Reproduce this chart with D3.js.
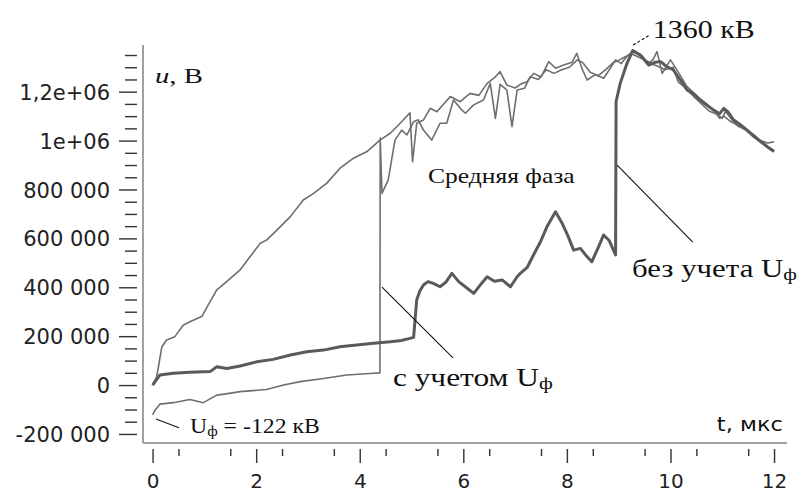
<!DOCTYPE html>
<html><head><meta charset="utf-8">
<script src="https://cdn.jsdelivr.net/npm/d3@7"></script>
<style>body{margin:0;background:#fff} svg{display:block}</style>
</head><body>
<svg id="chart" width="798" height="494"></svg>
<script>
// ---- data (t in µs, u in kV) ----
const xTickValues = [0, 2, 4, 6, 8, 10, 12];
const xTickLabels = ["0", "2", "4", "6", "8", "10", "12"];
const yTickValues = [-200000, 0, 200000, 400000, 600000, 800000, 1000000, 1200000];
const yTickLabels = ["-200 000", "0", "200 000", "400 000", "600 000", "800 000", "1e+06", "1,2e+06"];

// upper thin curve
const seriesUpper = [[0,0],[0.08,35],[0.18,157],[0.27,184],[0.43,198],[0.59,245],[0.72,259],[0.95,280],[1.11,341],[1.24,389],[1.43,423],[1.69,471],[1.88,525],[2.08,580],[2.20,593],[2.40,634],[2.66,689],[2.91,757],[3.11,784],[3.36,825],[3.62,887],[3.88,928],[4.14,955],[4.39,1002],[4.59,1030],[4.80,1075],[4.97,1114],[5.02,914],[5.10,1071],[5.23,1084],[5.36,1132],[5.49,1118],[5.62,1150],[5.75,1180],[5.94,1159],[6.13,1193],[6.30,1185],[6.46,1234],[6.62,1261],[6.71,1282],[6.84,1227],[7.00,1215],[7.10,1230],[7.23,1241],[7.36,1275],[7.50,1260],[7.65,1323],[7.78,1296],[7.94,1309],[8.10,1320],[8.19,1357],[8.30,1290],[8.39,1248],[8.55,1270],[8.71,1255],[8.85,1300],[8.94,1330],[9.05,1315],[9.16,1345],[9.30,1368],[9.42,1345],[9.58,1318],[9.66,1330],[9.74,1364],[9.84,1275],[10.0,1330],[10.15,1280],[10.32,1221],[10.45,1195],[10.58,1168],[10.70,1150],[10.83,1125],[10.95,1091],[11.03,1100],[11.15,1080],[11.30,1062],[11.48,1040],[11.60,1025],[11.74,1000],[11.88,990],[12.0,995]];

// thin curve "с учетом Uф"
const seriesWith = [[0,-122],[0.05,-102],[0.14,-78],[0.40,-72],[0.72,-59],[0.98,-72],[1.24,-41],[1.45,-35],[1.69,-27],[2.20,-18],[2.53,0],[2.85,14],[3.30,27],[3.75,41],[4.27,48],[4.39,50],[4.395,1010],[4.43,784],[4.55,839],[4.68,1002],[4.81,1043],[4.91,1023],[5.04,1077],[5.13,1085],[5.23,1043],[5.39,1002],[5.55,1071],[5.68,1071],[5.81,1166],[5.95,1130],[6.04,1112],[6.20,1146],[6.39,1166],[6.52,1234],[6.62,1091],[6.71,1230],[6.84,1207],[6.94,1057],[7.04,1207],[7.18,1214],[7.29,1261],[7.45,1250],[7.60,1290],[7.75,1275],[7.90,1290],[8.05,1300],[8.20,1330],[8.30,1320],[8.45,1280],[8.60,1265],[8.75,1290],[8.90,1320],[8.97,1325],[9.10,1340],[9.25,1355],[9.40,1340],[9.55,1325],[9.68,1310],[9.80,1300],[9.90,1290],[10.05,1300],[10.15,1240],[10.32,1210],[10.45,1180],[10.60,1150],[10.75,1120],[10.90,1108],[11.0,1091],[11.06,1120],[11.15,1095],[11.30,1060],[11.45,1045],[11.60,1015],[11.74,995],[11.88,975],[12.0,960]];

// thick curve "без учета Uф"
const seriesWithout = [[0,0],[0.14,41],[0.40,48],[0.72,52],[1.11,55],[1.24,75],[1.43,68],[1.69,78],[2.01,95],[2.33,105],[2.66,123],[2.98,136],[3.30,143],[3.62,157],[3.94,164],[4.27,171],[4.59,177],[4.80,182],[4.97,191],[5.04,195],[5.10,348],[5.16,385],[5.23,409],[5.32,423],[5.42,416],[5.55,402],[5.66,420],[5.78,457],[5.91,423],[6.05,400],[6.20,375],[6.33,410],[6.46,443],[6.60,425],[6.75,430],[6.91,402],[7.04,443],[7.10,457],[7.23,480],[7.35,530],[7.49,586],[7.62,650],[7.78,709],[7.90,665],[8.02,610],[8.13,552],[8.26,559],[8.37,530],[8.48,504],[8.60,560],[8.71,614],[8.82,590],[8.94,532],[8.95,1160],[9.03,1234],[9.16,1316],[9.27,1368],[9.42,1350],[9.58,1309],[9.70,1320],[9.81,1323],[9.93,1302],[10.05,1290],[10.19,1248],[10.32,1207],[10.45,1190],[10.58,1166],[10.70,1145],[10.83,1125],[10.95,1110],[11.03,1132],[11.12,1115],[11.22,1084],[11.35,1065],[11.48,1043],[11.60,1020],[11.74,996],[11.87,975],[12.0,955]];

// ---- chart ----
const svg = d3.select("#chart");
const x = d3.scaleLinear().domain([-0.185, 12.25]).range([143, 787]);
const y = d3.scaleLinear().domain([-237000, 1391000]).range([443, 45]);
const sansFont = "'DejaVu Sans', Verdana, sans-serif";
const serifFont = "'Liberation Serif', 'Times New Roman', serif";

// frame lines (left and bottom)
svg.append("line").attr("x1", x.range()[0]).attr("x2", x.range()[0])
  .attr("y1", y.range()[1]).attr("y2", y.range()[0])
  .attr("stroke", "#a0a0a0").attr("stroke-width", 2);
svg.append("line").attr("x1", x.range()[0]).attr("x2", x.range()[1])
  .attr("y1", y.range()[0]).attr("y2", y.range()[0])
  .attr("stroke", "#a0a0a0").attr("stroke-width", 2);

function styleAxis(g) {
  g.select(".domain").remove();
  g.selectAll(".tick line").attr("stroke", "#333").attr("stroke-width", 1.4);
  g.selectAll(".tick text").attr("fill", "#222").style("font-family", sansFont);
}

// y axis
const yMinor = d3.range(-200000, 1350001, 50000).filter(v => v % 200000 !== 0);
svg.append("g").attr("transform", "translate(137,0)")
  .call(d3.axisLeft(y).tickValues(yMinor).tickSize(12).tickFormat(""))
  .call(styleAxis);
svg.append("g").attr("transform", "translate(137,0)")
  .call(d3.axisLeft(y).tickValues(yTickValues).tickSize(18).tickPadding(9)
    .tickFormat((d, i) => yTickLabels[i]))
  .call(styleAxis)
  .call(g => g.selectAll(".tick text").style("font-size", "21px").attr("dy", "0.36em"));

// x axis
const xMinor = d3.range(0.5, 12, 1);
svg.append("g").attr("transform", "translate(0,449)")
  .call(d3.axisBottom(x).tickValues(xMinor).tickSize(7).tickFormat(""))
  .call(styleAxis);
svg.append("g").attr("transform", "translate(0,449)")
  .call(d3.axisBottom(x).tickValues(xTickValues).tickSize(14).tickPadding(11)
    .tickFormat((d, i) => xTickLabels[i]))
  .call(styleAxis)
  .call(g => g.selectAll(".tick text").style("font-size", "20px"));

// curves
const line = d3.line().x(d => x(d[0])).y(d => y(d[1] * 1000));
svg.append("path").datum(seriesUpper).attr("d", line)
  .attr("fill", "none").attr("stroke", "#6e6e6e").attr("stroke-width", 1.6).attr("stroke-linejoin", "round");
svg.append("path").datum(seriesWith).attr("d", line)
  .attr("fill", "none").attr("stroke", "#6e6e6e").attr("stroke-width", 1.6).attr("stroke-linejoin", "round");
svg.append("path").datum(seriesWithout).attr("d", line)
  .attr("fill", "none").attr("stroke", "#5a5a5a").attr("stroke-width", 3).attr("stroke-linejoin", "round");

// leader lines (data coordinates: t µs, u V)
const leaders = [
  {p: [[4.43, 401000], [5.80, 111000]], dash: null},
  {p: [[8.97, 900000], [10.43, 585000]], dash: null},
  {p: [[9.28, 1391000], [9.60, 1432000]], dash: "3,2"},
  {p: [[0.066, -139000], [0.51, -175000]], dash: null}
];
leaders.forEach(l => {
  svg.append("line")
    .attr("x1", x(l.p[0][0])).attr("y1", y(l.p[0][1]))
    .attr("x2", x(l.p[1][0])).attr("y2", y(l.p[1][1]))
    .attr("stroke", "#111").attr("stroke-width", 1.1)
    .attr("stroke-dasharray", l.dash);
});

// text labels
function addLabel(t, v, parts, size, width, font, anchorEnd) {
  const g = svg.append("g");
  const txt = g.append("text").attr("x", 0).attr("y", 0)
    .style("font-family", font).style("font-size", size + "px").attr("fill", "#111");
  parts.forEach(p => {
    const ts = txt.append("tspan").text(p.s);
    if (p.italic) ts.style("font-style", "italic");
    if (p.sub) ts.style("font-size", Math.round(size * 0.68) + "px").attr("dy", size * 0.12);
    if (p.unsub) ts.attr("dy", -size * 0.12);
  });
  const w = txt.node().getBBox().width;
  const sx = width / w;
  const px = anchorEnd ? x(t) - width : x(t);
  g.attr("transform", `translate(${px},${y(v)}) scale(${sx},1)`);
}
addLabel(0.046, 1235000, [{s: "u", italic: true}, {s: ", В"}], 22, 48, serifFont);
addLabel(5.318, 826000, [{s: "Средняя фаза"}], 22, 147, serifFont);
addLabel(9.256, 442000, [{s: "без учета U"}, {s: "ф", sub: true}], 25, 165, serifFont);
addLabel(4.64, -4000, [{s: "с учетом U"}, {s: "ф", sub: true}], 25, 160, serifFont);
addLabel(9.66, 1420000, [{s: "1360 кВ"}], 26, 102, serifFont);
addLabel(0.722, -196000, [{s: "U"}, {s: "ф", sub: true}, {s: " = -122 кВ", unsub: true}], 22, 130, serifFont);
addLabel(12.17, -188000, [{s: "t, мкс"}], 19, 66, sansFont, true);
</script>
</body></html>
